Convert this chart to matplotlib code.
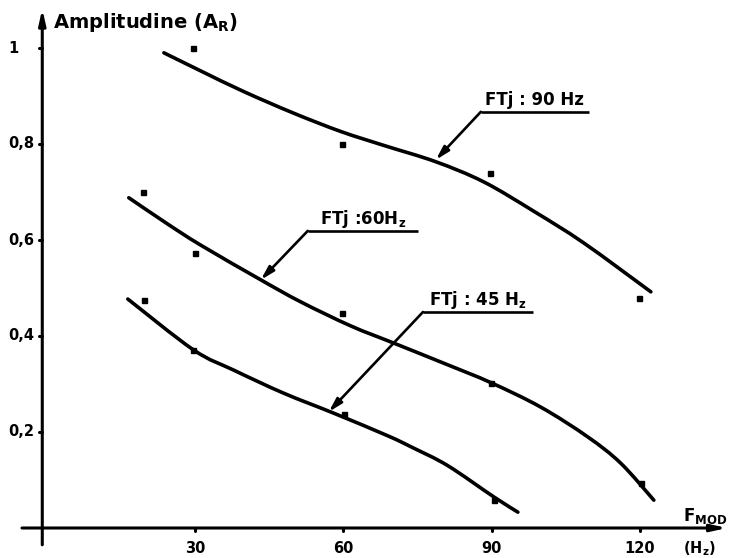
import matplotlib
matplotlib.use("Agg")
import matplotlib.pyplot as plt
from matplotlib.path import Path
from matplotlib.patches import PathPatch

plt.rcParams['font.family'] = ['DejaVu Sans']
plt.rcParams['font.weight'] = 'bold'
plt.rcParams['mathtext.fontset'] = 'dejavusans'
plt.rcParams['mathtext.default'] = 'bf'

# Fitted curves: modulation frequency F_MOD (Hz) vs. amplitude A_R
f_90 = [23.7, 31.2, 39.9, 50.0, 59.5, 68.2, 78.7, 88.4, 98.5, 108.6, 122.2]
a_90 = [0.990, 0.952, 0.909, 0.864, 0.826, 0.797, 0.763, 0.721, 0.660, 0.594, 0.492]

f_60 = [16.6, 24.5, 31.2, 43.3, 51.4, 61.5, 70.0, 81.1, 89.8, 99.9, 109.4, 116.1, 122.8]
a_60 = [0.688, 0.633, 0.589, 0.517, 0.471, 0.421, 0.386, 0.340, 0.303, 0.252, 0.190, 0.135, 0.058]

f_45 = [16.4, 29.7, 37.8, 47.9, 58.1, 69.0, 74.1, 81.1, 90.4, 95.3]
a_45 = [0.477, 0.371, 0.329, 0.281, 0.239, 0.192, 0.167, 0.130, 0.065, 0.033]

# Measured points
pf_90 = [29.5, 59.7, 89.6, 119.8]
pa_90 = [1.000, 0.800, 0.740, 0.479]
pf_60 = [19.4, 29.9, 59.7, 89.8, 120.2]
pa_60 = [0.700, 0.573, 0.448, 0.302, 0.094]
pf_45 = [19.6, 29.5, 60.1, 90.4]
pa_45 = [0.475, 0.371, 0.238, 0.058]

# Curve labels (FTj cut-off frequency)
curve_labels = ["FTj : 90 Hz", "FTj :60H$_z$", "FTj : 45 H$_z$"]

x_ticks = [30, 60, 90, 120]
x_tick_labels = ["30", "60", "90", "120"]
y_ticks = [0.2, 0.4, 0.6, 0.8, 1.0]
y_tick_labels = ["0,2", "0,4", "0,6", "0,8", "1"]


def smooth_path(xs, ys):
    """Cubic Bezier path passing through every given point (Catmull-Rom handles)."""
    pts = list(zip(xs, ys))
    verts = [pts[0]]
    codes = [Path.MOVETO]
    n = len(pts)
    for i in range(n - 1):
        p0 = pts[i - 1] if i > 0 else pts[i]
        p1 = pts[i]
        p2 = pts[i + 1]
        p3 = pts[i + 2] if i + 2 < n else pts[i + 1]
        c1 = (p1[0] + (p2[0] - p0[0]) / 6, p1[1] + (p2[1] - p0[1]) / 6)
        c2 = (p2[0] - (p3[0] - p1[0]) / 6, p2[1] - (p3[1] - p1[1]) / 6)
        verts += [c1, c2, p2]
        codes += [Path.CURVE4] * 3
    return Path(verts, codes)


fig = plt.figure(figsize=(7.29, 5.58), dpi=100)
ax = fig.add_axes([0, 0, 1, 1])
ax.set_xlim(-9.45, 138.0)
ax.set_ylim(-0.0625, 1.1)
ax.axis('off')

K = 'black'
y_axis_x = -0.9

# Hand-drawn style axes with arrow heads
ax.annotate('', xy=(y_axis_x, 1.082), xytext=(y_axis_x, -0.035),
            arrowprops=dict(arrowstyle='-|>,head_length=0.9,head_width=0.2',
                            lw=2.2, color=K, shrinkA=0, shrinkB=0))
ax.annotate('', xy=(137.6, 0.0), xytext=(-5.0, 0.0),
            arrowprops=dict(arrowstyle='-|>,head_length=0.9,head_width=0.2',
                            lw=2.2, color=K, shrinkA=0, shrinkB=0))

for yt, lab in zip(y_ticks, y_tick_labels):
    ax.plot([y_axis_x - 0.7, y_axis_x], [yt, yt], color=K, lw=2.2,
            solid_capstyle='round')
    ax.text(-7.7, yt, lab, ha='left', va='center', fontsize=10.5,
            fontweight='bold')

for xt, lab in zip(x_ticks, x_tick_labels):
    ax.plot([xt, xt], [0, -0.007], color=K, lw=2.2, solid_capstyle='round')
    ax.text(xt, -0.042, lab, ha='center', va='center', fontsize=10.5,
            fontweight='bold')

ax.text(1.3, 1.054, "Amplitudine (A$_R$)", ha='left', va='center',
        fontsize=14, fontweight='bold')
ax.text(128.7, 0.025, "F$_{MOD}$", ha='left', va='center', fontsize=12,
        fontweight='bold')
ax.text(128.7, -0.042, "(H$_z$)", ha='left', va='center', fontsize=10.5,
        fontweight='bold')

# Curves and measured points
for fx, ay in [(f_90, a_90), (f_60, a_60), (f_45, a_45)]:
    ax.add_patch(PathPatch(smooth_path(fx, ay), fill=False, edgecolor=K,
                           lw=2.6, capstyle='round', joinstyle='round'))
for fx, ay in [(pf_90, pa_90), (pf_60, pa_60), (pf_45, pa_45)]:
    ax.plot(fx, ay, linestyle='none', marker='s', markersize=3.6,
            color=K)

# Leader lines: (underline start, underline end, height, arrow tip, text height)
leaders = [
    (87.8, 109.6, 0.867, (78.7, 0.767), 0.892),
    (52.8, 75.0, 0.619, (43.3, 0.517), 0.644),
    (76.1, 98.3, 0.450, (57.05, 0.242), 0.476),
]
for (x0, x1, yl, tip, ytxt), lab in zip(leaders, curve_labels):
    ax.plot([x0, x1], [yl, yl], color=K, lw=1.9, solid_capstyle='butt')
    ax.annotate('', xy=tip, xytext=(x0, yl),
                arrowprops=dict(arrowstyle='-|>,head_length=0.8,head_width=0.22',
                                lw=1.9, color=K, shrinkA=0, shrinkB=0))
    ax.text((x0 + x1) / 2, ytxt, lab, ha='center', va='center',
            fontsize=12, fontweight='bold')

fig.savefig("out.png", dpi=100)
